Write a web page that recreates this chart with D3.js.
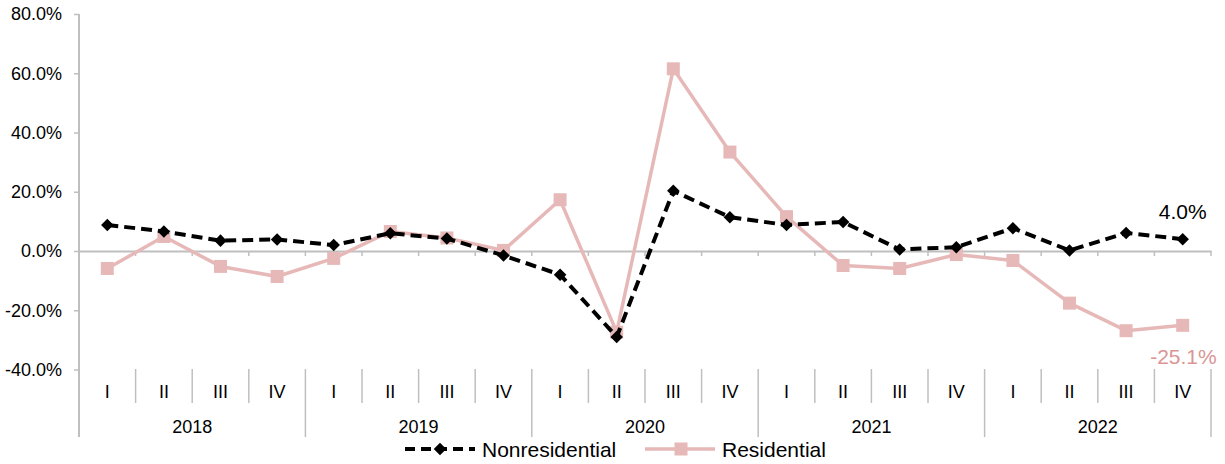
<!DOCTYPE html>
<html>
<head>
<meta charset="utf-8">
<script src="https://cdn.jsdelivr.net/npm/d3@7"></script>
<style>
  body { margin: 0; background: #fff; }
  text { font-family: "Liberation Sans", Arial, sans-serif; }
</style>
</head>
<body>
<div class="chart"></div>
<script>
// data
const years = ['2018', '2019', '2020', '2021', '2022'];
const quarters = ['I', 'II', 'III', 'IV'];
const nonresidential = [8.8, 6.6, 3.5, 3.9, 2.0, 6.0, 4.2, -1.5, -8.0, -29.0, 20.3, 11.4, 8.8, 9.8, 0.5, 1.3, 7.7, 0.2, 6.1, 4.0];
const residential = [-5.9, 4.9, -5.2, -8.6, -2.5, 6.6, 4.4, 0.2, 17.3, -27.4, 61.5, 33.4, 11.6, -4.9, -5.9, -1.2, -3.2, -17.6, -26.9, -25.1];
const yTicks = [-40, -20, 0, 20, 40, 60, 80];

const width = 1225, height = 464;
const plotLeft = 79, plotRight = 1211, plotTop = 14, plotBottom = 369.5;

const svg = d3.select('.chart')
    .append('svg')
    .attr('width', width)
    .attr('height', height);

const periods = [];
years.forEach(y => quarters.forEach(q => periods.push(y + ' ' + q)));

const xScale = d3.scaleBand()
    .domain(periods)
    .range([plotLeft, plotRight]);

const yScale = d3.scaleLinear()
    .domain([-40, 80])
    .range([plotBottom, plotTop]);

const cx = (d, i) => xScale(periods[i]) + xScale.bandwidth() / 2;
const grey = '#bfbfbf';

// y axis
const yAxis = svg.append('g')
    .attr('transform', `translate(${plotLeft},0)`)
    .call(d3.axisLeft(yScale).tickValues(yTicks).tickSize(5).tickSizeOuter(0)
        .tickFormat(d => d.toFixed(1) + '%'));
yAxis.select('.domain').remove();
yAxis.selectAll('.tick line').attr('stroke', grey).attr('stroke-width', 1.5);
yAxis.selectAll('.tick text')
    .attr('x', -17)
    .attr('font-size', 18)
    .attr('fill', '#000')
    .attr('font-family', '"Liberation Sans", Arial, sans-serif');

svg.append('line')
    .attr('x1', plotLeft).attr('x2', plotLeft)
    .attr('y1', plotTop).attr('y2', 437)
    .attr('stroke', grey).attr('stroke-width', 2);

// zero line with little ticks
const zeroAxis = svg.append('g')
    .attr('transform', `translate(0,${yScale(0)})`)
    .call(d3.axisBottom(xScale).tickSize(0).tickFormat(''));
zeroAxis.select('.domain').attr('stroke', grey).attr('stroke-width', 2);
svg.append('g')
    .selectAll('line')
    .data(periods.slice(1))
    .join('line')
    .attr('x1', d => xScale(d)).attr('x2', d => xScale(d))
    .attr('y1', yScale(0)).attr('y2', yScale(0) + 5)
    .attr('stroke', grey).attr('stroke-width', 1.5);
svg.append('line')
    .attr('x1', plotRight).attr('x2', plotRight)
    .attr('y1', yScale(0)).attr('y2', yScale(0) + 5)
    .attr('stroke', grey).attr('stroke-width', 1.5);

// category axis below the plot
const sepG = svg.append('g');
periods.forEach((p, i) => {
    if (i === 0) return;
    const isYear = i % 4 === 0;
    sepG.append('line')
        .attr('x1', xScale(p)).attr('x2', xScale(p))
        .attr('y1', 369).attr('y2', isYear ? 437 : 403)
        .attr('stroke', grey).attr('stroke-width', 1.5);
});
sepG.append('line')
    .attr('x1', plotRight).attr('x2', plotRight)
    .attr('y1', 369).attr('y2', 437)
    .attr('stroke', grey).attr('stroke-width', 1.5);

svg.append('g')
    .selectAll('text')
    .data(periods)
    .join('text')
    .attr('x', (d, i) => cx(d, i))
    .attr('y', 398)
    .attr('text-anchor', 'middle')
    .attr('font-size', 18)
    .text(d => d.split(' ')[1]);

svg.append('g')
    .selectAll('text')
    .data(years)
    .join('text')
    .attr('x', (d, i) => (xScale(d + ' I') + xScale(d + ' IV') + xScale.bandwidth()) / 2)
    .attr('y', 433)
    .attr('text-anchor', 'middle')
    .attr('font-size', 18)
    .text(d => d);

// lines
const line = d3.line()
    .x((d, i) => cx(d, i))
    .y(d => yScale(d));

const pink = '#e6b9b8';

svg.append('path')
    .datum(residential)
    .attr('d', line)
    .attr('fill', 'none')
    .attr('stroke', pink)
    .attr('stroke-width', 3.5)
    .attr('stroke-linejoin', 'round');

svg.append('g')
    .selectAll('rect')
    .data(residential)
    .join('rect')
    .attr('x', (d, i) => cx(d, i) - 6.5)
    .attr('y', d => yScale(d) - 6.5)
    .attr('width', 13).attr('height', 13)
    .attr('fill', pink);

svg.append('path')
    .datum(nonresidential)
    .attr('d', line)
    .attr('fill', 'none')
    .attr('stroke', '#000')
    .attr('stroke-width', 4)
    .attr('stroke-dasharray', '11,6')
    .attr('stroke-linejoin', 'round');

const diamond = d3.symbol().type(d3.symbolDiamond2).size(100);
svg.append('g')
    .selectAll('path')
    .data(nonresidential)
    .join('path')
    .attr('d', diamond)
    .attr('transform', (d, i) => `translate(${cx(d, i)},${yScale(d)})`)
    .attr('fill', '#000');

// end labels
const last = periods.length - 1;
svg.append('text')
    .attr('x', cx(null, last) + 24)
    .attr('y', yScale(nonresidential[last]) - 20)
    .attr('text-anchor', 'end')
    .attr('font-size', 21)
    .text(nonresidential[last].toFixed(1) + '%');

svg.append('text')
    .attr('x', cx(null, last) + 34)
    .attr('y', yScale(residential[last]) + 39)
    .attr('text-anchor', 'end')
    .attr('font-size', 21)
    .attr('fill', '#d99694')
    .text(residential[last].toFixed(1) + '%');

// legend
const legend = svg.append('g').attr('transform', 'translate(0,449)');
legend.append('line')
    .attr('x1', 405).attr('x2', 475)
    .attr('stroke', '#000').attr('stroke-width', 4)
    .attr('stroke-dasharray', '10,6');
legend.append('path')
    .attr('d', diamond)
    .attr('transform', 'translate(440,0)');
legend.append('text')
    .attr('x', 482).attr('y', 7.5)
    .attr('font-size', 21)
    .text('Nonresidential');

legend.append('line')
    .attr('x1', 645).attr('x2', 715)
    .attr('stroke', pink).attr('stroke-width', 3.5);
legend.append('rect')
    .attr('x', 674.5).attr('y', -6.5)
    .attr('width', 13).attr('height', 13)
    .attr('fill', pink);
legend.append('text')
    .attr('x', 722).attr('y', 7.5)
    .attr('font-size', 21)
    .text('Residential');
</script>
</body>
</html>
